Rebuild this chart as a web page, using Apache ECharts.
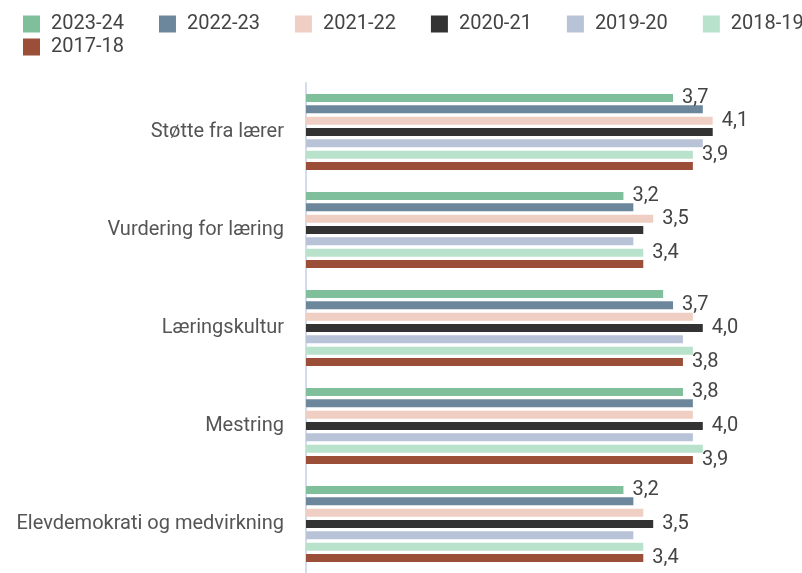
<!DOCTYPE html>
<html>
<head>
<meta charset="utf-8">
<script src="https://cdn.jsdelivr.net/npm/echarts@6/dist/echarts.min.js"></script>
<style>
  html, body { margin: 0; padding: 0; background: #fff; }
  #chart { width: 802px; height: 573px; }
</style>
</head>
<body>
<div id="chart"></div>
<script>
var categories = ['Støtte fra lærer', 'Vurdering for læring', 'Læringskultur', 'Mestring', 'Elevdemokrati og medvirkning'];
var years = ['2023-24', '2022-23', '2021-22', '2020-21', '2019-20', '2018-19', '2017-18'];

var y2023_24 = [3.7, 3.2, 3.6, 3.8, 3.2];
var y2022_23 = [4.0, 3.3, 3.7, 3.9, 3.3];
var y2021_22 = [4.1, 3.5, 3.9, 3.9, 3.4];
var y2020_21 = [4.1, 3.4, 4.0, 4.0, 3.5];
var y2019_20 = [4.0, 3.3, 3.8, 3.9, 3.3];
var y2018_19 = [3.9, 3.4, 3.9, 4.0, 3.4];
var y2017_18 = [3.9, 3.4, 3.8, 3.9, 3.4];

// which series get a value label, per category
var labelled = [[0, 2, 5], [0, 2, 5], [1, 3, 6], [0, 3, 6], [0, 3, 6]];

var values = [y2023_24, y2022_23, y2021_22, y2020_21, y2019_20, y2018_19, y2017_18];
var colors = ['#7fbf9b', '#6c879b', '#efcfc3', '#333333', '#b9c3d8', '#b9e2cc', '#9c4f38'];

var chart = echarts.init(document.getElementById('chart'));

var series = years.map(function (y, i) {
    return {
        name: y,
        type: 'bar',
        barWidth: 8,
        barGap: '42%',
        itemStyle: { color: colors[i] },
        label: {
            show: false,
            position: 'right',
            distance: 9,
            color: '#444',
            fontFamily: 'Roboto',
            fontSize: 20,
            formatter: function (p) {
                return p.value.toFixed(1).replace('.', ',');
            }
        },
        data: values[i].map(function (v, c) {
            return labelled[c].indexOf(i) >= 0 ? { value: v, label: { show: true } } : v;
        })
    };
});

var legendText = { color: '#444', fontFamily: 'Roboto', fontSize: 20, padding: [0, 0, 0, 6] };

chart.setOption({
    animation: false,
    color: colors,
    legend: [{
        data: years.slice(0, 6),
        left: 23,
        top: 14,
        width: 800,
        padding: 0,
        itemWidth: 17,
        itemHeight: 17,
        itemGap: 35,
        icon: 'rect',
        textStyle: legendText
    }, {
        data: years.slice(6),
        left: 23,
        top: 37,
        padding: 0,
        itemWidth: 17,
        itemHeight: 17,
        icon: 'rect',
        textStyle: legendText
    }],
    grid: {
        left: 306,
        top: 83,
        width: 500,
        height: 498
    },
    xAxis: {
        type: 'value',
        min: 0,
        max: 5,
        show: false
    },
    yAxis: {
        type: 'category',
        inverse: true,
        data: categories,
        axisLine: { lineStyle: { color: '#d3dbee', width: 2 } },
        axisTick: { show: false },
        axisLabel: {
            margin: 22,
            color: '#555',
            fontFamily: 'Roboto',
            fontSize: 20
        }
    },
    series: series
});
</script>
</body>
</html>
